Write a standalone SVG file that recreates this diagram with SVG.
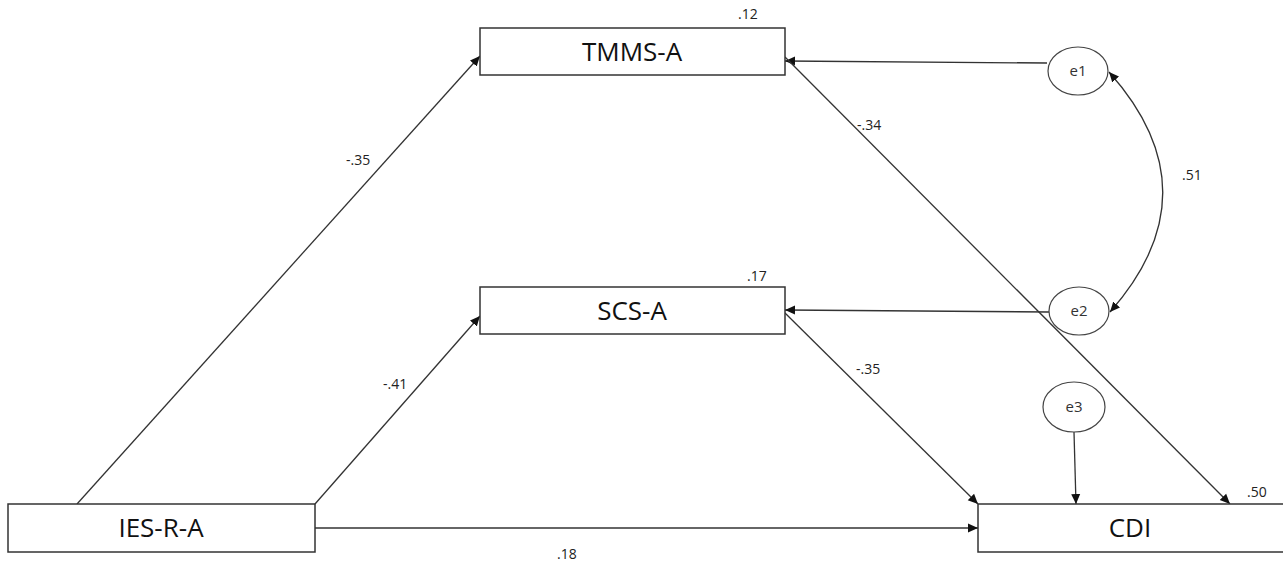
<svg xmlns="http://www.w3.org/2000/svg" width="1283" height="561" viewBox="0 0 1283 561">
<defs>
<marker id="ah" viewBox="0 0 10 10" refX="10" refY="5" markerWidth="10" markerHeight="10" markerUnits="userSpaceOnUse" orient="auto-start-reverse">
<path d="M0,0.5 L10,5 L0,9.5 Z" fill="#111"/>
</marker>
<style>
.box{fill:#fff;stroke:#333;stroke-width:1.5}
.ell{fill:#fff;stroke:#444;stroke-width:1.2}
.lbl{font-family:"Open Sans","Noto Sans",sans-serif;font-size:26px;fill:#111;text-anchor:middle}
.elb{font-family:"Open Sans","Noto Sans",sans-serif;font-size:15px;fill:#333;text-anchor:middle}
.num{font-family:"Open Sans","Noto Sans",sans-serif;font-size:14px;fill:#222}
.ln{fill:none;stroke:#333;stroke-width:1.3;marker-end:url(#ah)}
</style>
</defs>
<rect width="1283" height="561" fill="#fff"/>
<g id="connectors">
<line class="ln" x1="77" y1="504" x2="480" y2="56"/>
<line class="ln" x1="315" y1="504" x2="480" y2="316"/>
<line class="ln" x1="315" y1="528" x2="978" y2="528"/>
<line class="ln" x1="1047" y1="63" x2="785" y2="61"/>
<line class="ln" x1="1049" y1="312" x2="785" y2="310"/>
<line class="ln" x1="785" y1="57" x2="1230" y2="504"/>
<line class="ln" x1="785" y1="313" x2="978" y2="504"/>
<line class="ln" x1="1074" y1="432" x2="1076" y2="504"/>
<path class="ln" d="M1109,72 Q1216,192 1110,312" style="marker-start:url(#ah)"/>
<text class="num" x="346" y="165">-.35</text>
<text class="num" x="383" y="389">-.41</text>
<text class="num" x="857" y="130">-.34</text>
<text class="num" x="856" y="374">-.35</text>
<text class="num" x="1182" y="180">.51</text>
<text class="num" x="557" y="559">.18</text>
</g>
<g id="TMMS-A">
<rect class="box" x="480" y="28" width="305" height="47"/>
<text class="lbl" x="632" y="61">TMMS-A</text>
<text class="num" x="738" y="19">.12</text>
</g>
<g id="SCS-A">
<rect class="box" x="480" y="287" width="305" height="47"/>
<text class="lbl" x="632" y="320">SCS-A</text>
<text class="num" x="747" y="281">.17</text>
</g>
<g id="IES-R-A">
<rect class="box" x="8" y="504" width="307" height="48"/>
<text class="lbl" x="161" y="537">IES-R-A</text>
</g>
<g id="CDI">
<rect class="box" x="978" y="504" width="310" height="48"/>
<text class="lbl" x="1130" y="537">CDI</text>
<text class="num" x="1247" y="497">.50</text>
</g>
<g id="e1">
<ellipse class="ell" cx="1078" cy="71" rx="30" ry="24"/>
<text class="elb" x="1078" y="76">e1</text>
</g>
<g id="e2">
<ellipse class="ell" cx="1079" cy="311" rx="30" ry="24"/>
<text class="elb" x="1079" y="316">e2</text>
</g>
<g id="e3">
<ellipse class="ell" cx="1074" cy="407" rx="31" ry="25"/>
<text class="elb" x="1074" y="412">e3</text>
</g>
</svg>
